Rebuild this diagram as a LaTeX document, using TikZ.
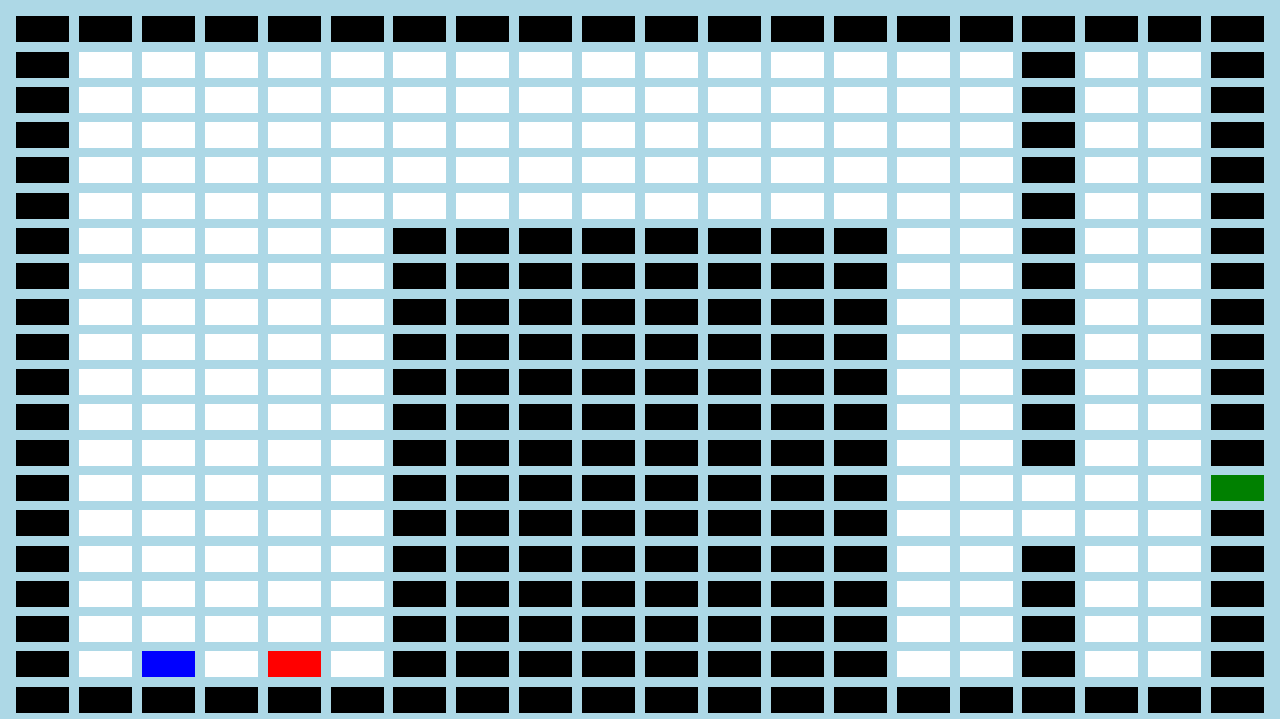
\documentclass[tikz,border=0pt]{standalone}
\definecolor{bgblue}{RGB}{173,216,230}
\definecolor{goalgreen}{RGB}{0,128,0}
\definecolor{agentblue}{RGB}{0,0,255}
\definecolor{agentred}{RGB}{255,0,0}
\newcommand\gcell[3]{\fill[#3] ({16+#1*62.9},{16.3+#2*35.28}) rectangle ++(53,26);}
\begin{document}
\begin{tikzpicture}[x=1pt,y=-1pt]
\fill[bgblue] (0,0) rectangle (1280,719);
\useasboundingbox (0,0) rectangle (1280,719);
% all cells white
\foreach \c in {0,...,19}{\foreach \r in {0,...,19}{\gcell{\c}{\r}{white}}}
% outer walls
\foreach \c in {0,...,19}{\gcell{\c}{0}{black}\gcell{\c}{19}{black}}
\foreach \r in {1,...,18}{\gcell{0}{\r}{black}\gcell{19}{\r}{black}}
% central block
\foreach \c in {6,...,13}{\foreach \r in {6,...,18}{\gcell{\c}{\r}{black}}}
% column 16 wall with gap
\foreach \r in {1,...,12,15,16,17,18}{\gcell{16}{\r}{black}}
% special cells
\gcell{19}{13}{goalgreen}
\gcell{2}{18}{agentblue}
\gcell{4}{18}{agentred}
\end{tikzpicture}
\end{document}
